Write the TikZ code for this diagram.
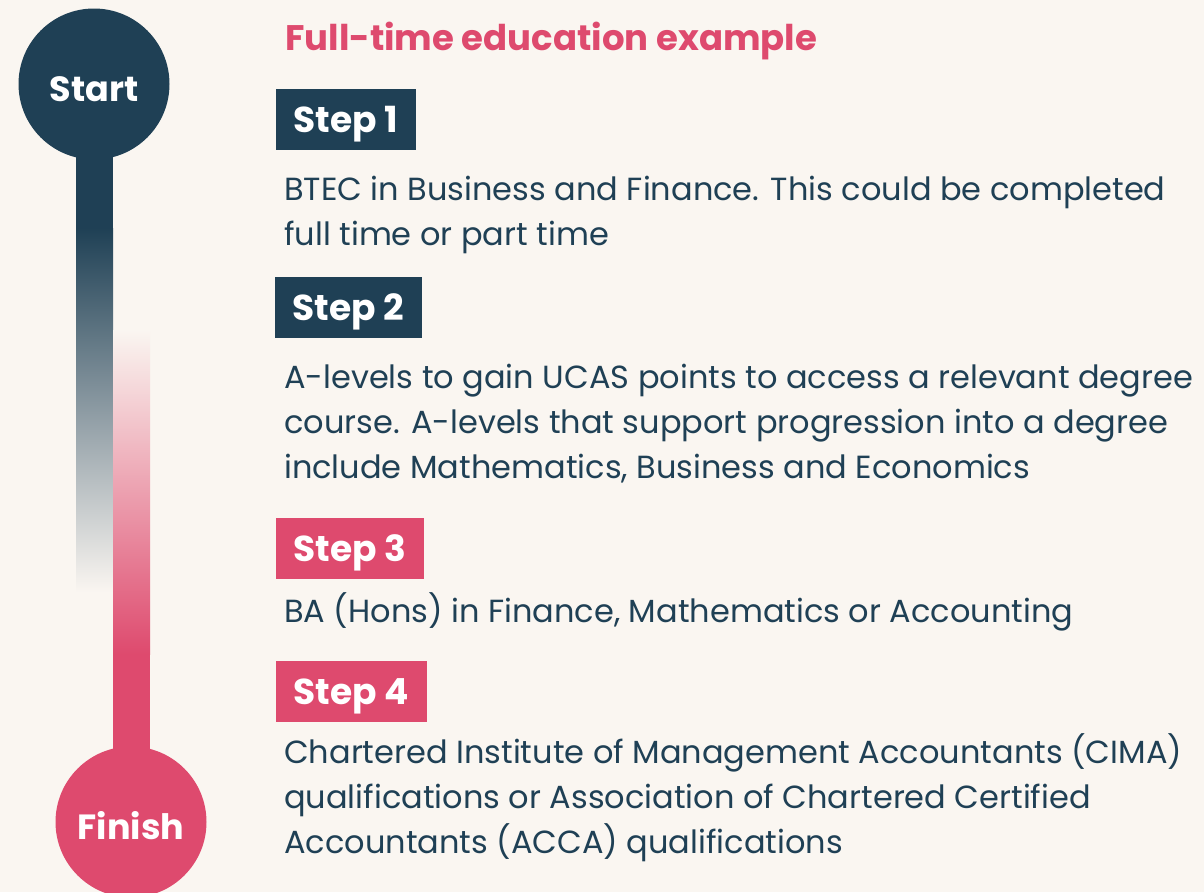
\documentclass[tikz,border=0pt]{standalone}
\usepackage{fontspec}
\setmainfont{Poppins}

\definecolor{navy}{HTML}{1F4055}
\definecolor{rose}{HTML}{DE4A6E}
\definecolor{paper}{HTML}{FAF6F1}

\begin{document}
\begin{tikzpicture}[x=1pt,y=-1pt]
\tikzset{stage/.style={circle,minimum size=151pt,inner sep=0pt,text=white,text height=35pt,text depth=0pt,font=\bfseries\fontsize{35}{35}\selectfont}}
\tikzset{stepbox/.style={anchor=north west,inner xsep=17.5pt,inner ysep=0pt,minimum height=61pt,text height=25pt,text depth=0pt,text=white,font=\bfseries\fontsize{36}{36}\selectfont}}
\tikzset{body/.style={anchor=base west,inner sep=0pt,align=left,text=navy,font=\fontsize{32}{45}\selectfont}}
\useasboundingbox[fill=paper] (0,0) rectangle (1204,892);
% timeline bars
\fill[navy] (76,84) rectangle (113,228);
\shade[top color=navy,bottom color=paper] (76,228) rectangle (113,592);
\shade[top color=paper,bottom color=rose] (113,330) rectangle (150,654);
\fill[rose] (113,654) rectangle (150,823);
% start and finish
\node[stage,fill=navy] (start) at (94,84) {Start};
\node[stage,fill=rose] (finish) at (131,822) {Finish};
% title
\node[anchor=base west,inner sep=0pt,text=rose,font=\bfseries\fontsize{35.5}{36}\selectfont] (title) at (285,50) {Full-time education example};
% steps (body nodes sit on the baseline of their last line)
\node[stepbox,fill=navy] (step1) at (276,89) {Step 1};
\node[body] (text1) at (284,245) {BTEC in Business and Finance. This could be completed\\full time or part time};
\node[stepbox,fill=navy] (step2) at (275,277) {Step 2};
\node[body] (text2) at (284,478) {A-levels to gain UCAS points to access a relevant degree\\course. A-levels that support progression into a degree\\include Mathematics, Business and Economics};
\node[stepbox,fill=rose] (step3) at (276,518) {Step 3};
\node[body] (text3) at (284,622) {BA (Hons) in Finance, Mathematics or Accounting};
\node[stepbox,fill=rose] (step4) at (276,661) {Step 4};
\node[body] (text4) at (284,853) {Chartered Institute of Management Accountants (CIMA)\\qualifications or Association of Chartered Certified\\Accountants (ACCA) qualifications};
\end{tikzpicture}
\end{document}
